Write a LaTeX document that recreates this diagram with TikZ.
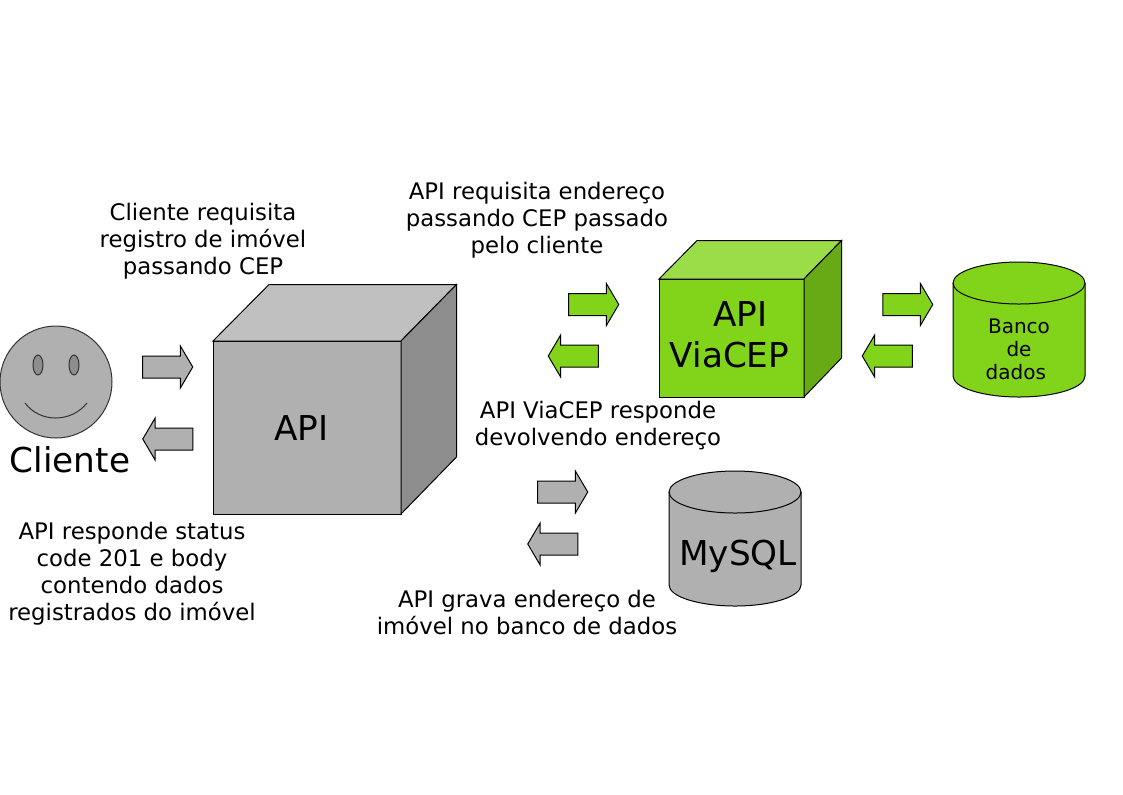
\documentclass[tikz,border=0pt]{standalone}
\usepackage{fontspec}
\setmainfont{DejaVu Sans}
\usetikzlibrary{shapes.arrows, shapes.geometric}
\definecolor{boxgray}{HTML}{B0B0B0}
\definecolor{boxgreen}{HTML}{81D41A}
\newcommand{\dbshape}[3]{%
  \draw[fill=#3] (#1-66,#2) arc[start angle=180, end angle=0, x radius=49.5pt, y radius=15.75pt]
    -- (#1+66,#2+93) arc[start angle=360, end angle=180, x radius=49.5pt, y radius=15.75pt] -- cycle;
  \draw (#1-66,#2) arc[start angle=180, end angle=360, x radius=49.5pt, y radius=15.75pt];}

\begin{document}
\begin{tikzpicture}[x=0.75pt, y=-0.75pt, line width=0.75pt,
            blockr/.style={single arrow, draw=black, inner xsep=0pt, inner ysep=7.875pt, outer sep=0pt,
            minimum height=37.5pt, minimum width=31pt,
            single arrow head extend=7.6pt, single arrow tip angle=119},
            blockl/.style={blockr, shape border rotate=180},
            label/.style={align=center, font=\fontsize{17.1}{20.25}\selectfont, inner sep=0pt},
            big/.style={font=\fontsize{25.7}{30}\selectfont, inner sep=0pt}]
          \useasboundingbox (0,0) rectangle (1123,794);

          % cliente
          \node[circle, draw=black!80, fill=boxgray, minimum size=84pt, inner sep=0pt] (face) at (56,382) {};
          \node[ellipse, draw=black!80, fill=boxgray!80!black, minimum width=7.5pt, minimum height=15pt, inner sep=0pt] (eyel) at (38,365) {};
          \node[ellipse, draw=black!80, fill=boxgray!80!black, minimum width=7.5pt, minimum height=15pt, inner sep=0pt] (eyer) at (74,365) {};
          \draw[black!80] (25,403) .. controls (40,423) and (71,423) .. (87,403);
          \node[big] (cliente) at (70,460) {Cliente};

          % api
          \node[draw=black, fill=boxgray, minimum width=141pt, minimum height=129.75pt, inner sep=0pt, outer sep=0pt] (api) at (307,427.5) {};
          \draw[fill=boxgray!80!white] (api.north west) -- (269,284.5) -- (456.5,284.5) -- (api.north east) -- cycle;
          \draw[fill=boxgray!80!black] (api.north east) -- (456.5,284.5) -- (456.5,457) -- (api.south east) -- cycle;
          \node[big] (apitext) at (301.5,428) {API};

          % viacep
          \node[draw=black, fill=boxgreen, minimum width=108.75pt, minimum height=88.5pt, inner sep=0pt, outer sep=0pt] (via) at (731.5,338) {};
          \draw[fill=boxgreen!80!white] (via.north west) -- (697,240.5) -- (841.5,240.5) -- (via.north east) -- cycle;
          \draw[fill=boxgreen!80!black] (via.north east) -- (841.5,240.5) -- (841.5,358) -- (via.south east) -- cycle;
          \node[big] (viatext) at (740.5,314) {API};
          \node[big] (viatextb) at (729.5,355) {ViaCEP};

          % bancos
          \dbshape{1019}{283}{boxgreen}
          \node[font=\fontsize{15}{17.25}\selectfont, align=center, inner sep=0pt] (bancotext) at (1019,349.5) {Banco\\de\\\mbox{dados\ }};
          \dbshape{735}{492}{boxgray}
          \node[big] (mysqltext) at (738,556.5) {MySQL};

          % setas
          \node[blockr, fill=boxgray] (a1) at (164.5,367) {};
          \node[blockl, fill=boxgray] (a2) at (171,439) {};
          \node[blockr, fill=boxgreen] (a3) at (590.5,304.5) {};
          \node[blockl, fill=boxgreen] (a4) at (576.5,356) {};
          \node[blockr, fill=boxgreen] (a5) at (904.5,304.5) {};
          \node[blockl, fill=boxgreen] (a6) at (890.5,356) {};
          \node[blockr, fill=boxgray] (a7) at (559.5,492) {};
          \node[blockl, fill=boxgray] (a8) at (556,544) {};

          % textos
          \node[label] (t1) at (203,241) {Cliente requisita\\registro de imóvel\\passando CEP};
          \node[label] (t2) at (537,220) {API requisita endereço\\passando CEP passado\\pelo cliente};
          \node[label] (t3) at (598,426) {API ViaCEP responde\\devolvendo endereço};
          \node[label] (t4) at (132,574) {API responde status\\code 201 e body\\contendo dados\\registrados do imóvel};
          \node[label] (t5) at (527,612.5) {API grava endereço de\\imóvel no banco de dados};
        \end{tikzpicture}
\end{document}
